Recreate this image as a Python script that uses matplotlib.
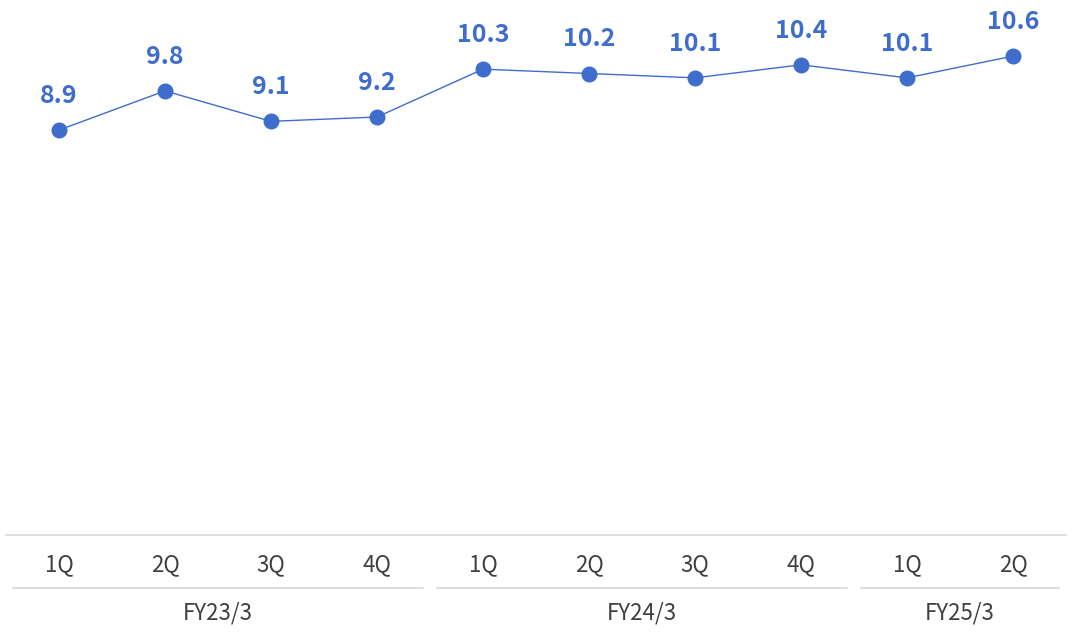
import matplotlib
matplotlib.use("Agg")
import matplotlib.pyplot as plt

plt.rcParams['font.family'] = ['Noto Sans CJK JP', 'DejaVu Sans']

quarters = ["1Q", "2Q", "3Q", "4Q", "1Q", "2Q", "3Q", "4Q", "1Q", "2Q"]
values = [8.9, 9.8, 9.1, 9.2, 10.3, 10.2, 10.1, 10.4, 10.1, 10.6]
fiscal_years = ["FY23/3", "FY24/3", "FY25/3"]
quarters_per_year = [4, 4, 2]

BLUE = "#3E6DCB"
TEXT = "#404040"
GRID = "#D9D9D9"

W, H, DPI = 1076, 634, 100
fig = plt.figure(figsize=(W / DPI, H / DPI), dpi=DPI)
fig.patch.set_facecolor("white")

ax_bottom_px = 535
ax = fig.add_axes([6 / W, (H - ax_bottom_px) / H, 1060 / W, ax_bottom_px / H])
ax.set_xlim(-0.5, len(values) - 0.5)
ax.set_ylim(-0.41, 11.89)
ax.axis("off")

x = list(range(len(values)))
ax.plot(x, values, color=BLUE, lw=1.0, marker="o", markersize=10.5,
        markerfacecolor=BLUE, markeredgecolor=BLUE, zorder=3)

for xi, v in zip(x, values):
    ax.annotate(f"{v:.1f}", (xi, v), xytext=(0, 24.5), textcoords="offset points",
                ha="center", va="center", fontsize=18, fontweight="bold", color=BLUE)

tr = ax.get_xaxis_transform()
px = 1.0 / ax_bottom_px

# baseline of the category axis
ax.plot([-0.5, len(values) - 0.5], [0, 0], color=GRID, lw=1.2, transform=tr, clip_on=False)

# quarter labels
for xi, q in zip(x, quarters):
    ax.text(xi, -30 * px, q, transform=tr, ha="center", va="center",
            fontsize=16, color=TEXT)

# fiscal year separators and labels
inset = 7 / 106
start = 0
for fy, n in zip(fiscal_years, quarters_per_year):
    left = start - 0.5
    right = start + n - 0.5
    ax.plot([left + inset, right - inset], [-53 * px, -53 * px], color=GRID, lw=1.2,
            transform=tr, clip_on=False)
    ax.text((left + right) / 2, -78 * px, fy, transform=tr, ha="center", va="center",
            fontsize=16, color=TEXT)
    start += n

fig.savefig("out.png", dpi=DPI, facecolor="white")
